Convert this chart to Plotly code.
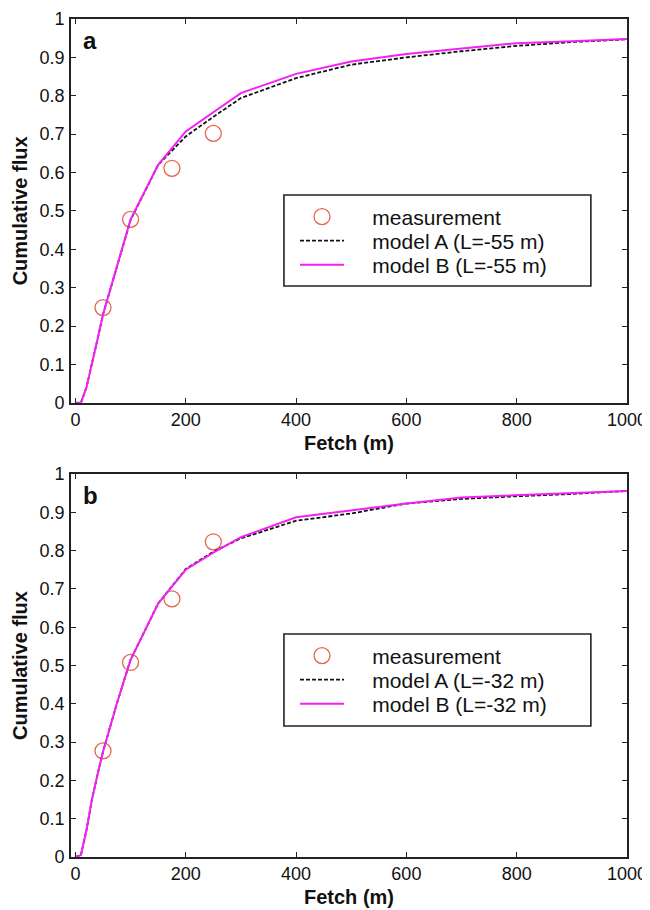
import plotly.graph_objects as go

# ---------------- data ----------------
fetch_meas = [50, 100, 175, 250]
meas_a = [0.248, 0.478, 0.611, 0.702]
meas_b = [0.277, 0.508, 0.674, 0.823]

fetch_model = [0, 10, 20, 30, 40, 50, 75, 100, 150, 200, 250, 300, 400, 500, 600, 700, 800, 900, 1000]
modelA_a = [0, 0, 0.04, 0.10, 0.165, 0.23, 0.355, 0.476, 0.62, 0.694, 0.745, 0.794, 0.846, 0.881, 0.900, 0.916, 0.930, 0.940, 0.947]
modelB_a = [0, 0, 0.04, 0.10, 0.165, 0.23, 0.355, 0.478, 0.62, 0.707, 0.757, 0.807, 0.857, 0.889, 0.909, 0.923, 0.937, 0.942, 0.948]
modelA_b = [0, 0.005, 0.07, 0.15, 0.215, 0.275, 0.40, 0.515, 0.662, 0.752, 0.797, 0.832, 0.878, 0.897, 0.923, 0.935, 0.942, 0.948, 0.956]
modelB_b = [0, 0.005, 0.07, 0.15, 0.215, 0.275, 0.40, 0.515, 0.662, 0.750, 0.795, 0.835, 0.887, 0.905, 0.923, 0.939, 0.945, 0.950, 0.956]

x_ticks = [0, 200, 400, 600, 800, 1000]
x_ticklabels = ["0", "200", "400", "600", "800", "1000"]
y_ticks = [0, 0.1, 0.2, 0.3, 0.4, 0.5, 0.6, 0.7, 0.8, 0.9, 1.0]
y_ticklabels = ["0", "0.1", "0.2", "0.3", "0.4", "0.5", "0.6", "0.7", "0.8", "0.9", "1"]

names_a = ["measurement", "model A (L=-55 m)", "model B (L=-55 m)"]
names_b = ["measurement", "model A (L=-32 m)", "model B (L=-32 m)"]
panel_labels = ["a", "b"]

# ---------------- styles ----------------
FONT = "Liberation Sans, Arial, sans-serif"
MEAS_COLOR = "#e8654f"
MAG = "#f520f5"
PAD = "\u00a0\u00a0\u00a0\u00a0"

fig = go.Figure()

panels = [
    ("x", "y", meas_a, modelA_a, modelB_a, names_a, ["legend", "legend2", "legend3"]),
    ("x2", "y2", meas_b, modelA_b, modelB_b, names_b, ["legend4", "legend5", "legend6"]),
]
for xa, ya, meas, mA, mB, names, legs in panels:
    fig.add_trace(go.Scatter(
        x=fetch_meas, y=meas, mode="markers", name=PAD + names[0],
        marker=dict(symbol="circle-open", size=16, color=MEAS_COLOR, line=dict(width=1.3, color=MEAS_COLOR)),
        xaxis=xa, yaxis=ya, legend=legs[0]))
    fig.add_trace(go.Scatter(
        x=fetch_model, y=mA, mode="lines", name=PAD + names[1],
        line=dict(color="#111111", width=1.8, dash="4px,2px"),
        xaxis=xa, yaxis=ya, legend=legs[1]))
    fig.add_trace(go.Scatter(
        x=fetch_model, y=mB, mode="lines", name=PAD + names[2],
        line=dict(color=MAG, width=2),
        xaxis=xa, yaxis=ya, legend=legs[2]))

axis_common = dict(
    showline=True, linecolor="#222", linewidth=1.6, mirror="ticks",
    ticks="inside", ticklen=5, tickwidth=1.2, tickcolor="#222",
    showgrid=False, zeroline=False, automargin=False,
    tickfont=dict(family=FONT, size=18, color="#111"),
)

xax = dict(axis_common, range=[-8, 1000], tickvals=x_ticks, ticktext=x_ticklabels,
           title=dict(text="Fetch (m)", font=dict(family=FONT, size=20, color="#111", weight="bold"), standoff=7))
yax = dict(axis_common, range=[0, 1], tickvals=y_ticks, ticktext=y_ticklabels, ticklabelstandoff=1,
           title=dict(text="Cumulative flux", font=dict(family=FONT, size=20, color="#111", weight="bold"), standoff=7))

top_dom = [0.542, 1.0]
bot_dom = [0.0, 0.457]

legend_common = dict(
    bgcolor="rgba(0,0,0,0)", borderwidth=0, xanchor="left", yanchor="middle",
    font=dict(family=FONT, size=21, color="#111"), itemwidth=44, x=0.4029,
)
rows_top = [0.7637, 0.7351, 0.7064]
rows_bot = [0.2399, 0.2112, 0.1826]

# page body has an 8px margin: the figure is shifted to compensate
fig.update_layout(
    width=642, height=902,
    margin=dict(l=63, r=23, t=11, b=53, autoexpand=False),
    paper_bgcolor="white", plot_bgcolor="white",
    showlegend=True,
    xaxis=dict(xax, domain=[0, 1], anchor="y"),
    yaxis=dict(yax, domain=top_dom, anchor="x"),
    xaxis2=dict(xax, domain=[0, 1], anchor="y2"),
    yaxis2=dict(yax, domain=bot_dom, anchor="x2"),
    legend=dict(legend_common, y=rows_top[0]),
    legend2=dict(legend_common, y=rows_top[1]),
    legend3=dict(legend_common, y=rows_top[2]),
    legend4=dict(legend_common, y=rows_bot[0]),
    legend5=dict(legend_common, y=rows_bot[1]),
    legend6=dict(legend_common, y=rows_bot[2]),
    shapes=[
        dict(type="rect", xref="paper", yref="paper", x0=0.383, x1=0.935, y0=0.6814, y1=0.79,
             line=dict(color="#222", width=1.6), fillcolor="white", layer="above"),
        dict(type="rect", xref="paper", yref="paper", x0=0.383, x1=0.935, y0=0.1563, y1=0.2661,
             line=dict(color="#222", width=1.6), fillcolor="white", layer="above"),
    ],
    annotations=[
        dict(text=panel_labels[0], xref="x domain", yref="y domain", x=0.018, y=0.945,
             xanchor="left", yanchor="middle", showarrow=False,
             font=dict(family=FONT, size=24, color="#111", weight="bold")),
        dict(text=panel_labels[1], xref="x2 domain", yref="y2 domain", x=0.018, y=0.943,
             xanchor="left", yanchor="middle", showarrow=False,
             font=dict(family=FONT, size=24, color="#111", weight="bold")),
    ],
)

fig.write_html("out.html")
